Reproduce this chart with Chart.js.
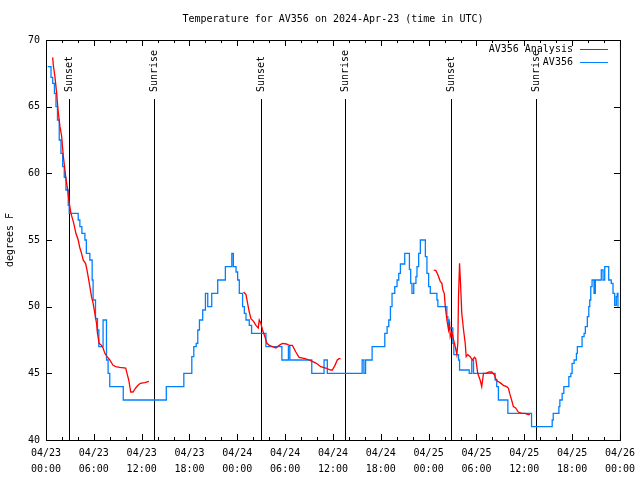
<!DOCTYPE html>
<html>
<head>
<meta charset="utf-8">
<script src="https://cdn.jsdelivr.net/npm/chart.js@4.4.1/dist/chart.umd.min.js"></script>
<style>
body { margin: 0; background: #fff; }
canvas { display: block; }
</style>
</head>
<body>
<canvas id="chart" width="640" height="480"></canvas>
<script>
// time is hours since 04/23 00:00 UTC
const blueHours = [0.21, 0.44, 0.63, 0.84, 1.06, 1.25, 1.44, 1.66, 1.88, 2.09, 2.29, 2.5, 2.79, 2.91, 3.91, 4.04, 4.25, 4.5, 4.88, 5.06, 5.5, 5.79, 5.91, 6.21, 6.46, 6.63, 7.0, 7.16, 7.38, 7.59, 7.79, 8.0, 9.59, 9.69, 14.79, 15.09, 17.04, 17.29, 18.09, 18.29, 18.54, 18.84, 19.04, 19.25, 19.66, 20.0, 20.29, 20.59, 20.79, 21.31, 21.54, 22.25, 22.5, 23.09, 23.31, 23.5, 23.84, 24.04, 24.25, 24.66, 24.88, 25.09, 25.5, 25.79, 27.38, 27.59, 29.25, 29.59, 30.29, 30.41, 30.59, 33.0, 33.34, 34.79, 34.88, 35.19, 35.29, 39.38, 39.66, 39.88, 40.09, 40.71, 40.91, 42.38, 42.5, 42.79, 43.0, 43.21, 43.41, 43.75, 44.04, 44.25, 44.46, 44.75, 45.0, 45.41, 45.59, 45.75, 45.91, 46.13, 46.41, 46.54, 46.75, 46.96, 47.38, 47.59, 47.79, 48.0, 48.21, 48.84, 49.04, 49.16, 50.09, 50.29, 50.41, 50.5, 50.91, 51.04, 51.16, 51.66, 51.75, 51.88, 52.91, 53.09, 53.25, 53.41, 53.5, 53.63, 56.13, 56.34, 56.54, 56.75, 57.91, 57.94, 60.84, 60.91, 63.41, 63.5, 63.63, 64.16, 64.34, 64.46, 64.75, 64.96, 65.41, 65.59, 65.84, 66.0, 66.25, 66.54, 66.66, 67.09, 67.25, 67.5, 67.66, 67.91, 68.09, 68.21, 68.34, 68.5, 68.75, 68.91, 69.46, 69.66, 69.88, 70.09, 70.41, 70.59, 70.91, 71.13, 71.34, 71.54, 71.66, 71.75];
const blueTemps = [68, 68, 67.2, 66.75, 66, 65, 64, 62.5, 61.5, 60.5, 59.7, 58.75, 57.6, 57, 57, 56.5, 56, 55.5, 55, 54, 53.5, 52, 50.5, 49.1, 48.25, 47, 47, 49, 49, 46, 45, 44, 44, 43, 43, 44, 44, 45, 45, 46.25, 47, 47.25, 48.25, 49, 49.75, 51, 50, 50, 51, 51, 52, 52, 53, 53, 54, 53, 52.6, 52, 51, 50, 49.5, 49, 48.6, 48, 48, 47, 47, 46, 46, 47, 46, 46, 45, 45, 46, 46, 45, 45, 46, 45, 46, 46, 47, 47, 48, 48.5, 49, 50, 51, 51.5, 52, 52.5, 53.2, 53.2, 54, 54, 52.8, 51.75, 51, 51.75, 52.25, 53, 54, 55, 55, 53.75, 52.5, 51.5, 51, 51, 50.5, 50, 50, 49.25, 49, 48.4, 48.4, 47.25, 46.4, 46.4, 46, 45.25, 45.25, 45, 45, 46, 46, 45, 45, 44.5, 44, 43, 43, 42, 42, 41, 41, 41.5, 42, 42, 42.5, 43, 43.5, 44, 44, 44.75, 45, 45.75, 46, 46.5, 47, 47, 47.75, 48, 48.5, 49.25, 50, 50.5, 51.5, 52, 51, 52, 52, 52.75, 52, 53, 53, 52, 51.75, 51, 50.1, 50.75, 51, 50];

// null temperature splits the analysis into its three runs
const redHours = [0.84, 0.92, 1.13, 1.34, 1.5, 1.75, 1.96, 2.17, 2.33, 2.5, 2.71, 2.91, 3.13, 3.46, 3.75, 4.04, 4.25, 4.46, 4.66, 4.96, 5.09, 5.29, 5.5, 5.71, 5.91, 6.13, 6.34, 6.46, 6.66, 6.96, 7.16, 7.38, 7.66, 8.0, 8.41, 8.75, 9.25, 10.0, 10.16, 10.38, 10.63, 10.91, 11.25, 11.54, 11.84, 12.38, 12.91,
  18,
  24.79, 25.09, 25.29, 25.5, 25.71, 26.04, 26.34, 26.63, 26.75, 26.96, 27.16, 27.46, 27.71, 28.0, 28.41, 28.84, 29.25, 29.66, 30.16, 30.5, 30.91, 31.34, 31.75, 32.5, 33.0, 33.41, 33.91, 34.46, 35.09, 35.71, 35.91, 36.25, 36.54, 36.75, 36.96,
  42,
  48.63, 48.91, 49.16, 49.46, 49.66, 49.79, 49.96, 50.09, 50.29, 50.5, 50.63, 50.71, 50.91, 51.13, 51.34, 51.54, 51.66, 51.75, 51.88, 52.0, 52.16, 52.38, 52.59, 52.71, 52.91, 53.21, 53.5, 53.75, 53.91, 54.16, 54.46, 54.66, 54.88, 55.16, 55.59, 55.91, 56.25, 56.41, 56.66, 56.96, 57.38, 57.79, 58.0, 58.21, 58.41, 58.63, 58.91, 59.25, 59.66, 60.09, 60.5, 60.71];
const redTemps = [68.7, 68.1, 67.2, 66.0, 64.8, 63.5, 62.8, 61.3, 60.5, 59.6, 58.8, 57.8, 57.0, 56.3, 55.5, 55.0, 54.4, 54.0, 53.5, 53.25, 52.9, 52.25, 51.5, 50.75, 50.25, 49.5, 48.75, 48.0, 47.25, 47.1, 46.9, 46.5, 46.25, 46.0, 45.6, 45.5, 45.45, 45.4, 45.0, 44.5, 43.6, 43.6, 43.9, 44.1, 44.25, 44.3, 44.4,
  null,
  51.1, 50.9, 50.25, 49.6, 49.1, 48.9, 48.6, 48.4, 49.0, 48.75, 48.25, 47.75, 47.25, 47.1, 47.0, 46.9, 47.1, 47.25, 47.2, 47.1, 47.1, 46.6, 46.2, 46.1, 46.0, 45.9, 45.75, 45.5, 45.4, 45.25, 45.25, 45.6, 46.0, 46.1, 46.1,
  null,
  52.75, 52.7, 52.4, 51.9, 51.75, 51.25, 51.0, 50.0, 49.0, 48.25, 48.75, 47.75, 48.1, 47.5, 47.0, 46.4, 47.25, 50.75, 53.25, 51.75, 49.5, 48.25, 47.25, 46.25, 46.4, 46.25, 46.0, 46.2, 46.1, 45.0, 44.5, 44.0, 45.0, 45.0, 45.1, 45.1, 44.9, 44.6, 44.4, 44.3, 44.1, 44.0, 43.9, 43.4, 43.0, 42.5, 42.4, 42.1, 42.0, 42.0, 41.9, 41.9];

const sunHours = [2.91, 13.58, 26.92, 37.45, 50.79, 61.41];
const sunNames = ['Sunset', 'Sunrise', 'Sunset', 'Sunrise', 'Sunset', 'Sunrise'];

const tickDates = ['04/23', '04/23', '04/23', '04/23', '04/24', '04/24', '04/24', '04/24', '04/25', '04/25', '04/25', '04/25', '04/26'];
const tickTimes = ['00:00', '06:00', '12:00', '18:00', '00:00', '06:00', '12:00', '18:00', '00:00', '06:00', '12:00', '18:00', '00:00'];

const FONT = 'DejaVu Sans Mono';
const fnt = { family: FONT, size: 10 };

function pairs(xs, ys) {
    let out = [];
    for (let i = 0; i < xs.length; i++) {
        out.push({ x: xs[i], y: ys[i] });
    }
    return out;
}

// gnuplot style frame: border, inward ticks, sun lines, legend, title
const gnuplotBits = {
    id: 'gnuplotBits',
    beforeDatasetsDraw(chart) {
        const { ctx, chartArea: a, scales: { x } } = chart;
        ctx.save();
        ctx.strokeStyle = '#000';
        ctx.fillStyle = '#000';
        ctx.lineWidth = 1;
        ctx.font = '10px "' + FONT + '"';
        for (let i = 0; i < sunHours.length; i++) {
            let px = Math.round(x.getPixelForValue(sunHours[i])) + 0.5;
            ctx.beginPath();
            ctx.moveTo(px, a.top + 59);
            ctx.lineTo(px, a.bottom);
            ctx.stroke();
            ctx.save();
            ctx.translate(px, a.top + 52);
            ctx.rotate(-Math.PI / 2);
            ctx.textAlign = 'left';
            ctx.textBaseline = 'middle';
            ctx.fillText(sunNames[i], 0, 0);
            ctx.restore();
        }
        ctx.restore();
    },
    afterDatasetsDraw(chart) {
        const { ctx, chartArea: a, scales: { x, y } } = chart;
        ctx.save();
        ctx.strokeStyle = '#000';
        ctx.lineWidth = 1;
        ctx.strokeRect(a.left + 0.5, a.top + 0.5, a.right - a.left, a.bottom - a.top);
        ctx.beginPath();
        for (let h = 0; h <= 72; h += 2) {
            let px = Math.round(x.getPixelForValue(h)) + 0.5;
            let len = (h % 6 === 0) ? 6 : 3;
            ctx.moveTo(px, a.bottom);
            ctx.lineTo(px, a.bottom - len);
            ctx.moveTo(px, a.top);
            ctx.lineTo(px, a.top + len);
        }
        for (let t = 40; t <= 70; t += 5) {
            let py = Math.round(y.getPixelForValue(t)) + 0.5;
            ctx.moveTo(a.left, py);
            ctx.lineTo(a.left + 6, py);
            ctx.moveTo(a.right, py);
            ctx.lineTo(a.right - 6, py);
        }
        ctx.stroke();

        // legend
        ctx.font = '10px "' + FONT + '"';
        ctx.textAlign = 'right';
        ctx.textBaseline = 'middle';
        ctx.fillStyle = '#000';
        const sets = chart.data.datasets;
        for (let i = 0; i < sets.length; i++) {
            let ly = a.top + 9.5 + i * 13;
            ctx.fillText(sets[i].label, a.right - 47, ly);
            ctx.strokeStyle = sets[i].borderColor;
            ctx.beginPath();
            ctx.moveTo(a.right - 40, ly);
            ctx.lineTo(a.right - 12, ly);
            ctx.stroke();
        }

        // title, centred over the plot
        ctx.textAlign = 'center';
        ctx.fillText('Temperature for AV356 on 2024-Apr-23 (time in UTC)', (a.left + a.right) / 2, 19);
        ctx.restore();
    }
};

const ctx = document.getElementById('chart').getContext('2d');
const chart = new Chart(ctx, {
    type: 'line',
    data: {
        datasets: [{
            label: 'AV356 Analysis',
            data: pairs(redHours, redTemps),
            borderColor: '#ff0000',
            borderWidth: 1.3,
            pointRadius: 0,
            tension: 0,
            spanGaps: false
        }, {
            label: 'AV356',
            data: pairs(blueHours, blueTemps),
            borderColor: '#0080ff',
            borderWidth: 1.3,
            pointRadius: 0,
            stepped: true
        }]
    },
    options: {
        responsive: false,
        animation: false,
        devicePixelRatio: 1,
        layout: { padding: { top: 40, right: 18, left: 0, bottom: 0 } },
        plugins: {
            legend: { display: false },
            title: { display: false },
            tooltip: { enabled: false }
        },
        scales: {
            x: {
                type: 'linear',
                min: 0,
                max: 72,
                border: { display: false },
                grid: { display: false, drawTicks: false },
                ticks: {
                    stepSize: 6,
                    autoSkip: false,
                    maxRotation: 0,
                    padding: 5,
                    color: '#000',
                    font: { family: FONT, size: 10, lineHeight: 1.6 },
                    callback: function (v) {
                        let i = Math.round(v / 6);
                        return [tickDates[i], tickTimes[i]];
                    }
                },
                afterFit: function (s) { s.height = 40; }
            },
            y: {
                min: 40,
                max: 70,
                border: { display: false },
                grid: { display: false, drawTicks: false },
                ticks: {
                    stepSize: 5,
                    padding: 6,
                    color: '#000',
                    font: fnt
                },
                title: {
                    display: true,
                    text: 'degrees F',
                    color: '#000',
                    font: fnt,
                    padding: { top: 4, bottom: 0 }
                },
                afterFit: function (s) { s.width = 46; }
            }
        }
    },
    plugins: [gnuplotBits]
});
</script>
</body>
</html>
